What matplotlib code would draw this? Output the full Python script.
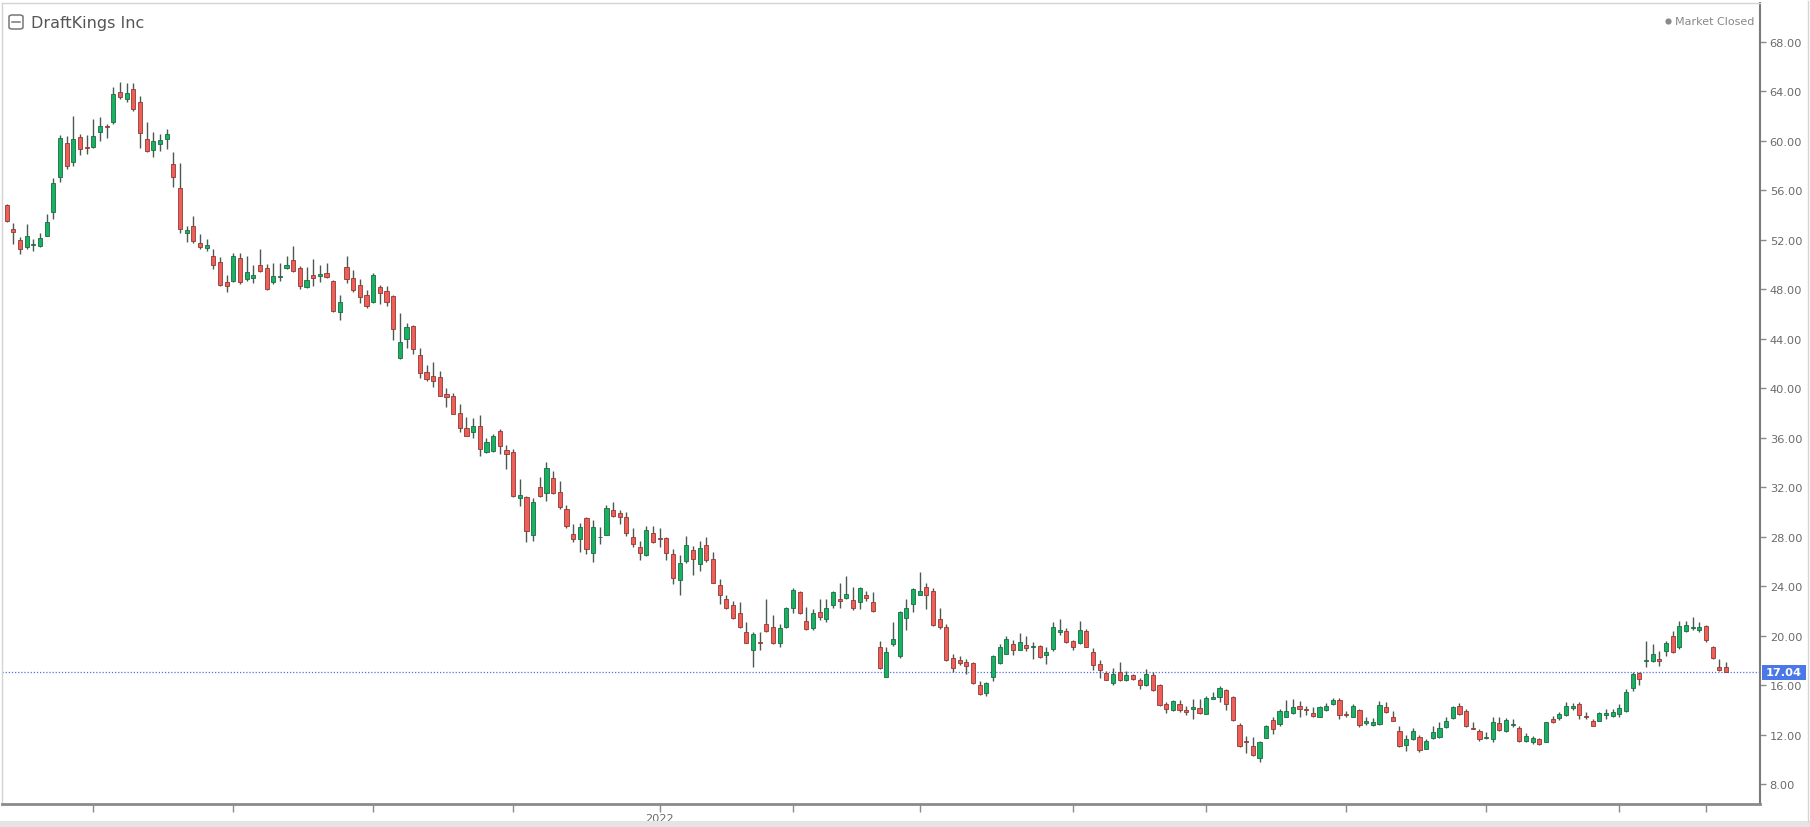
import numpy as np
import pandas as pd
import matplotlib
matplotlib.use('Agg')
import matplotlib.pyplot as plt
import matplotlib.transforms as mtransforms
from matplotlib.patches import Rectangle, FancyBboxPatch
from matplotlib.lines import Line2D

title = 'DraftKings Inc'
status = 'Market Closed'
first_day = '2021-08-13'
holidays = ['2021-09-06', '2021-11-25', '2021-12-24', '2022-01-17', '2022-02-21',
            '2022-04-15', '2022-05-30', '2022-06-20', '2022-07-04']
tick_dates = ['2021-09-01', '2021-10-01', '2021-11-01', '2021-12-01', '2022-01-03',
              '2022-02-01', '2022-03-01', '2022-04-01', '2022-05-02', '2022-06-01',
              '2022-07-01', '2022-08-01', '2022-08-18']
tick_labels = ['', '', '', '', '2022', '', '', '', '', '', '', '', '']
y_ticks = list(range(8, 69, 4))
last_price = 17.04

opens = [54.8, 52.85, 51.96, 51.37, 51.55, 51.5, 52.3, 54.2, 57.03, 59.8,
         58.24, 60.26, 59.5, 59.51, 60.67, 61.2, 61.53, 63.9, 63.36, 64.17,
         63.1, 60.13, 59.24, 59.73, 60.13, 58.11, 56.14, 52.5, 53.07, 51.72,
         51.32, 50.7, 50.16, 48.6, 48.63, 50.49, 48.82, 48.9, 49.95, 49.68,
         48.55, 48.98, 49.71, 50.38, 49.68, 48.2, 49.14, 49.03, 49.3, 48.68,
         46.12, 49.76, 48.87, 48.33, 47.52, 46.98, 48.14, 47.87, 47.42, 42.43,
         44.0, 44.99, 42.67, 41.33, 40.95, 40.87, 39.49, 39.33, 37.98, 36.74,
         36.47, 36.9, 34.8, 34.94, 36.55, 35.02, 34.86, 31.13, 31.24, 28.15,
         31.97, 31.51, 32.7, 31.62, 30.22, 28.2, 27.79, 29.47, 26.64, 27.93,
         28.15, 30.17, 29.9, 29.55, 27.93, 27.2, 26.5, 28.28, 27.9, 27.85,
         26.58, 24.5, 25.99, 26.93, 25.77, 27.31, 26.18, 24.08, 22.94, 22.46,
         21.81, 20.3, 18.85, 19.44, 20.92, 20.73, 19.39, 20.73, 22.27, 23.54,
         21.19, 20.65, 21.92, 21.38, 22.46, 22.92, 23.0, 22.89, 22.73, 23.27,
         22.73, 19.04, 16.69, 19.31, 18.36, 21.41, 22.54, 23.32, 23.89, 23.57,
         21.38, 20.66, 18.15, 18.04, 17.88, 17.77, 15.99, 15.35, 16.69, 17.77,
         18.55, 19.31, 18.85, 19.23, 19.04, 19.17, 18.42, 18.9, 20.3, 20.38,
         19.58, 19.39, 20.38, 18.71, 17.69, 16.96, 16.13, 17.07, 16.42, 16.8,
         16.42, 16.02, 16.83, 15.99, 14.45, 13.97, 14.45, 13.97, 14.1, 14.13,
         13.7, 14.91, 15.07, 15.61, 15.05, 12.78, 11.49, 11.09, 10.14, 11.76,
         13.19, 12.84, 13.43, 13.73, 14.32, 14.1, 13.78, 13.46, 14.0, 14.45,
         14.78, 13.7, 13.46, 13.97, 12.97, 12.79, 12.84, 14.19, 13.43, 12.3,
         11.14, 11.63, 11.82, 10.87, 11.76, 11.84, 12.65, 13.3, 14.32, 13.87,
         12.57, 12.25, 11.71, 11.68, 12.92, 12.3, 12.79, 12.57, 11.49, 11.36,
         11.63, 11.41, 13.25, 13.3, 13.57, 14.11, 14.46, 13.52, 13.11, 13.11,
         13.6, 13.52, 13.65, 13.92, 15.76, 16.97, 17.91, 17.97, 18.1, 18.77,
         19.93, 19.04, 20.39, 20.58, 20.47, 20.8, 19.04, 17.43, 17.43]
highs = [54.9, 53.34, 52.2, 53.26, 52.04, 52.5, 54.07, 56.95, 60.5, 60.4,
         61.96, 60.53, 60.5, 61.75, 61.88, 61.34, 64.31, 64.71, 64.66, 64.66,
         63.63, 61.53, 60.72, 60.53, 60.94, 59.05, 58.16, 53.12, 53.93, 52.45,
         52.04, 51.24, 50.57, 49.14, 50.92, 50.92, 50.7, 49.95, 51.24, 50.03,
         50.08, 50.08, 50.7, 51.51, 49.84, 49.76, 50.43, 49.95, 50.11, 48.76,
         47.52, 50.7, 49.57, 48.82, 47.96, 49.3, 48.33, 48.28, 47.52, 46.07,
         45.26, 45.1, 43.21, 41.86, 42.08, 41.4, 39.98, 39.6, 38.71, 37.63,
         37.55, 37.82, 36.01, 36.28, 36.69, 35.4, 35.07, 32.65, 31.3, 31.16,
         32.78, 34.05, 33.32, 32.51, 30.57, 29.01, 29.06, 29.55, 29.33, 28.74,
         30.54, 30.81, 30.14, 29.95, 28.66, 27.66, 28.82, 28.82, 28.66, 27.93,
         26.99, 26.5, 28.01, 27.26, 27.66, 27.93, 26.72, 24.61, 23.27, 22.81,
         22.73, 21.06, 20.25, 20.3, 22.94, 21.65, 20.92, 22.35, 23.81, 23.62,
         22.35, 22.13, 22.94, 22.95, 23.57, 24.29, 24.83, 23.89, 23.89, 23.62,
         23.54, 19.58, 19.04, 21.06, 22.0, 22.95, 23.81, 25.1, 24.29, 23.81,
         22.19, 20.93, 18.5, 18.36, 18.1, 17.88, 16.34, 16.26, 18.42, 19.31,
         19.98, 19.63, 20.2, 19.98, 19.52, 19.25, 19.09, 21.06, 21.33, 20.6,
         19.63, 21.14, 20.52, 18.98, 18.01, 17.1, 17.42, 17.9, 17.15, 16.88,
         16.56, 17.29, 17.02, 16.07, 14.67, 14.81, 14.78, 14.32, 14.86, 14.86,
         15.13, 15.4, 15.94, 15.67, 15.13, 12.97, 11.9, 11.81, 11.49, 12.78,
         13.46, 14.05, 14.78, 14.86, 14.72, 14.32, 14.19, 14.32, 14.59, 14.94,
         14.94, 13.92, 14.45, 14.05, 13.43, 13.3, 14.73, 14.65, 13.92, 12.71,
         11.95, 12.57, 11.95, 11.68, 12.71, 13.03, 13.38, 14.32, 14.54, 14.05,
         12.98, 12.44, 12.22, 13.38, 13.38, 13.3, 13.25, 12.71, 12.11, 11.9,
         11.76, 13.03, 13.52, 13.84, 14.65, 14.52, 14.6, 13.79, 13.25, 13.84,
         14.06, 14.06, 14.46, 15.68, 17.02, 17.08, 19.58, 19.31, 18.77, 19.58,
         20.39, 21.2, 21.2, 21.47, 21.12, 20.85, 19.18, 18.1, 17.83]
lows = [53.4, 51.64, 50.83, 51.24, 51.1, 51.4, 52.26, 53.66, 56.68, 57.7,
        57.97, 58.84, 58.9, 59.38, 59.99, 60.18, 61.34, 63.36, 63.1, 62.42,
        59.38, 59.05, 58.7, 59.19, 59.32, 56.22, 52.58, 51.78, 51.72, 51.24,
        51.1, 49.62, 48.28, 47.74, 48.55, 48.41, 48.68, 48.49, 49.36, 47.93,
        48.41, 48.68, 49.63, 49.36, 48.01, 48.06, 48.22, 48.55, 48.87, 46.12,
        45.53, 48.49, 47.74, 46.88, 46.45, 46.88, 46.8, 46.61, 43.89, 42.35,
        43.21, 42.75, 40.79, 40.6, 40.06, 39.33, 38.44, 37.9, 36.47, 36.1,
        36.01, 34.53, 34.75, 34.86, 34.67, 33.45, 31.24, 30.49, 27.58, 27.61,
        31.24, 30.89, 31.43, 30.22, 28.66, 27.58, 26.77, 26.58, 25.91, 27.39,
        28.12, 29.55, 29.01, 28.07, 27.2, 26.12, 26.45, 27.47, 27.12, 26.12,
        24.16, 23.3, 25.85, 24.88, 25.23, 25.96, 24.24, 22.54, 22.13, 21.38,
        20.65, 19.39, 17.5, 18.85, 20.25, 19.31, 19.04, 20.65, 21.81, 21.73,
        20.46, 20.46, 21.27, 21.11, 22.19, 22.19, 22.95, 22.08, 22.14, 22.81,
        21.92, 17.29, 16.69, 19.17, 18.15, 20.47, 21.87, 23.27, 22.14, 20.79,
        20.52, 17.96, 17.02, 17.61, 16.88, 16.07, 15.18, 15.08, 16.34, 17.69,
        18.5, 18.44, 18.82, 18.77, 18.09, 18.17, 17.69, 18.77, 20.06, 19.44,
        18.82, 19.31, 19.04, 17.23, 16.56, 16.4, 16.02, 16.34, 16.29, 16.4,
        15.67, 15.94, 15.53, 14.32, 13.78, 13.92, 13.86, 13.59, 13.24, 13.65,
        13.65, 14.86, 14.67, 13.97, 13.11, 11.0, 10.47, 10.28, 9.82, 11.71,
        12.08, 12.7, 13.38, 13.65, 13.38, 13.59, 13.43, 13.38, 13.92, 14.4,
        13.24, 13.38, 13.38, 12.62, 12.78, 12.71, 12.76, 13.78, 13.06, 10.96,
        10.69, 11.57, 10.61, 10.82, 11.68, 11.76, 12.57, 13.25, 13.57, 12.65,
        12.44, 11.49, 11.63, 11.36, 12.3, 12.22, 12.65, 11.41, 11.36, 11.23,
        11.17, 11.36, 12.92, 13.2, 13.52, 14.0, 13.25, 13.25, 12.66, 13.06,
        13.25, 13.38, 13.38, 13.84, 15.54, 16.0, 17.43, 17.89, 17.56, 18.37,
        18.58, 18.91, 20.31, 20.47, 20.26, 19.5, 18.1, 17.16, 17.02]
closes = [53.53, 52.6, 51.24, 52.26, 51.62, 52.12, 53.4, 56.57, 60.2, 57.97,
          60.13, 59.32, 59.43, 60.35, 61.2, 61.13, 63.77, 63.55, 63.82, 62.56,
          60.59, 59.13, 59.99, 60.07, 60.53, 57.03, 52.85, 52.77, 51.86, 51.43,
          51.56, 49.94, 48.36, 48.28, 50.65, 48.55, 49.41, 49.14, 49.44, 48.01,
          49.03, 49.09, 49.95, 49.44, 48.22, 48.76, 48.9, 49.22, 49.0, 46.2,
          46.93, 48.82, 47.93, 47.34, 46.66, 49.14, 47.69, 46.93, 44.78, 43.75,
          44.91, 43.16, 41.19, 40.73, 40.54, 39.38, 39.3, 37.95, 36.74, 36.15,
          36.9, 35.12, 35.66, 36.1, 35.29, 34.67, 31.3, 31.35, 28.47, 30.76,
          31.3, 33.51, 31.51, 30.41, 28.87, 27.79, 28.74, 26.99, 28.74, 28.0,
          30.35, 29.63, 29.55, 28.26, 27.39, 26.64, 28.55, 27.53, 27.82, 26.64,
          24.64, 25.85, 27.31, 26.18, 27.04, 26.1, 24.29, 23.27, 22.24, 21.43,
          20.71, 19.44, 20.11, 19.39, 20.38, 19.39, 20.65, 22.19, 23.7, 21.81,
          20.57, 21.86, 21.54, 22.19, 23.49, 22.78, 23.35, 22.22, 23.81, 23.05,
          22.0, 17.34, 18.69, 19.71, 21.92, 22.27, 23.76, 23.62, 23.27, 20.87,
          20.71, 18.04, 17.42, 17.77, 17.56, 16.13, 15.27, 16.16, 18.31, 19.04,
          19.71, 18.82, 19.5, 18.96, 19.12, 18.23, 18.71, 20.73, 20.46, 19.5,
          19.04, 20.46, 19.09, 17.64, 17.23, 16.42, 16.88, 16.42, 16.8, 16.53,
          15.99, 16.88, 15.61, 14.37, 14.05, 14.72, 14.0, 13.86, 14.19, 13.73,
          14.99, 15.07, 15.8, 14.45, 13.16, 11.09, 11.41, 10.33, 11.41, 12.7,
          12.49, 13.92, 13.92, 14.24, 14.1, 14.02, 13.51, 14.24, 14.32, 14.78,
          13.57, 13.59, 14.27, 12.76, 13.11, 13.03, 14.4, 13.84, 13.11, 11.04,
          11.68, 12.3, 10.77, 11.44, 12.22, 12.57, 13.11, 14.19, 13.65, 12.71,
          12.49, 11.63, 11.76, 13.03, 12.38, 13.17, 12.89, 11.49, 11.9, 11.76,
          11.23, 12.98, 13.03, 13.63, 14.33, 14.33, 13.57, 13.38, 12.71, 13.73,
          13.73, 13.79, 14.14, 15.46, 16.89, 16.48, 18.02, 18.5, 17.97, 19.39,
          18.64, 20.74, 20.85, 20.71, 20.66, 19.66, 18.15, 17.24, 17.04]

W, H = 1810, 828


def fx(px):
    return px / W


def fy(py):
    return 1 - py / H


dates = pd.bdate_range(start=first_day, periods=len(opens), freq='C', holidays=holidays)
tick_pos = dates.searchsorted(pd.to_datetime(tick_dates))

o = np.array(opens)
h = np.array(highs)
l = np.array(lows)
c = np.array(closes)
x = np.arange(len(o))
up = c >= o

fig = plt.figure(figsize=(W / 100, H / 100), dpi=100)
fig.patch.set_facecolor('white')
ax = fig.add_axes([fx(2), (H - 804.6) / H, (1760 - 2) / W, (804.6 - 4) / H])

green, red = '#17b363', '#ef5f57'
ax.vlines(x, l, h, color='#4b5a50', lw=1, zorder=2)
body_bottom = np.minimum(o, c)
body_h = np.maximum(np.abs(c - o), 0.07)
ax.bar(x, body_h, bottom=body_bottom, width=0.62,
       color=np.where(up, green, red),
       edgecolor=np.where(up, '#1d6a44', '#8c3a35'),
       linewidth=0.6, zorder=3)

ax.axhline(last_price, color='#4a72e6', lw=0.9, ls=(0, (1, 1.5)), zorder=1)

ax.set_xlim(-0.7, 263.1)
ax.set_ylim(6.42, 71.13)

ax.yaxis.tick_right()
ax.set_yticks(y_ticks)
ax.set_yticklabels([f'{v:.2f}' for v in y_ticks])
ax.tick_params(axis='y', direction='out', length=4, width=1, color='#8a8a8a',
               labelsize=8.2, labelcolor='#6a6a6a', pad=3)
ax.set_xticks(tick_pos)
ax.set_xticklabels(tick_labels)
ax.tick_params(axis='x', direction='out', length=6, width=1, color='#8a8a8a',
               labelsize=8.2, labelcolor='#6a6a6a', pad=0.5)

for side in ['left', 'top']:
    ax.spines[side].set_color('#d4d4d4')
    ax.spines[side].set_linewidth(1)
ax.spines['right'].set_color('#7a7a7a')
ax.spines['right'].set_linewidth(1.5)
ax.spines['bottom'].set_color('#8a8a8a')
ax.spines['bottom'].set_linewidth(2)

# last price tag on the right axis
trans = mtransforms.blended_transform_factory(ax.transAxes, ax.transData)
tag_w = 44 / 1758
tag_h = 15 / 12.37
ax.add_patch(Rectangle((1.001, last_price - tag_h / 2), tag_w, tag_h, transform=trans,
                       facecolor='#4a78e8', edgecolor='none', clip_on=False, zorder=5))
ax.text(1.001 + tag_w / 2, last_price, f'{last_price:.2f}', transform=trans,
        ha='center', va='center', color='white', fontsize=8.2, fontweight='bold',
        clip_on=False, zorder=6)

# outer frame
fig.add_artist(Line2D([fx(1808), fx(1808)], [fy(2), fy(822)], color='#d4d4d4', lw=1))
fig.add_artist(Rectangle((0, 0), 1, 6 / H, transform=fig.transFigure,
                         facecolor='#e4e4e4', edgecolor='none'))

# header
fig.add_artist(FancyBboxPatch((fx(9), fy(30)), fx(14), 14 / H,
                              boxstyle='round,pad=0,rounding_size=0.002',
                              transform=fig.transFigure, facecolor='none',
                              edgecolor='#777777', lw=1.1))
fig.add_artist(Line2D([fx(12), fx(20)], [fy(23), fy(23)], color='#777777', lw=1.1))
fig.text(fx(31), fy(23.5), title, ha='left', va='center', fontsize=11.5, color='#555555')

fig.add_artist(Line2D([fx(1668)], [fy(22)], marker='o', markersize=4.5,
                      markerfacecolor='#8a8a8a', markeredgecolor='none', linestyle='none'))
fig.text(fx(1675), fy(22), status, ha='left', va='center', fontsize=8, color='#888888')

fig.savefig('out.png', dpi=100, facecolor='white')
